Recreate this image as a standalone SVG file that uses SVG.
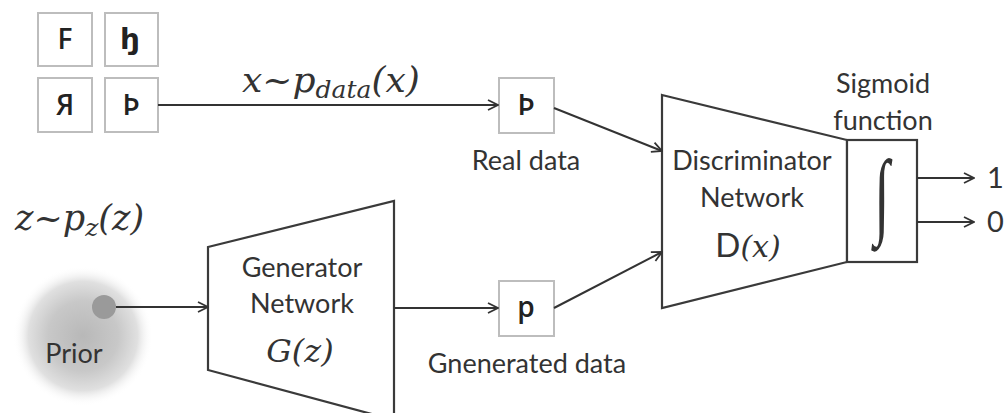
<svg xmlns="http://www.w3.org/2000/svg" width="1005" height="413" viewBox="0 0 1005 413">
<defs>
<style>
.box{fill:#fff;stroke:#bdbdbd;stroke-width:2}
.shape{fill:#fff;stroke:#3a3a3a;stroke-width:2.2}
.lbl{font-family:Lato,"Open Sans",sans-serif;font-size:27px;fill:#333;text-anchor:middle}
.glyph{font-family:"Open Sans","DejaVu Sans",sans-serif;font-weight:600;font-size:28px;fill:#222;text-anchor:middle}
.math{font-family:"DejaVu Serif","Liberation Serif",serif;font-style:italic;fill:#333}
.edge{fill:none;stroke:#333;stroke-width:2}
</style>
<marker id="arr" viewBox="0 0 12 12" refX="11" refY="6" markerWidth="12" markerHeight="12" markerUnits="userSpaceOnUse" orient="auto">
<polyline points="1,1 11,6 1,11" fill="none" stroke="#333" stroke-width="1.8"/>
</marker>
<radialGradient id="prior" cx="0.5" cy="0.5" r="0.5">
<stop offset="0" stop-color="#b8b8b8"/>
<stop offset="0.5" stop-color="#c8c8c8"/>
<stop offset="0.78" stop-color="#e0e0e0"/>
<stop offset="1" stop-color="#fff" stop-opacity="0"/>
</radialGradient>
</defs>
<rect width="1005" height="413" fill="#fff"/>

<g id="samples">
<rect class="box" x="38" y="13" width="54" height="53"/>
<text class="glyph" x="65" y="49">F</text>
<rect class="box" x="105" y="13" width="53" height="53"/>
<text class="glyph" x="130" y="49">ꜧ</text>
<rect class="box" x="38" y="78" width="54" height="54"/>
<text class="glyph" x="65" y="115">Я</text>
<rect class="box" x="105" y="78" width="53" height="54"/>
<text class="glyph" x="131" y="115">Þ</text>
</g>

<g id="label-x">
<text class="math" x="242" y="92" font-size="36">x~p<tspan font-size="25" dy="6">data</tspan><tspan dy="-6">(x)</tspan></text>
</g>

<g id="real-data">
<rect class="box" x="499" y="78" width="55" height="55"/>
<text class="glyph" x="526" y="115">Þ</text>
<text class="lbl" x="526" y="170">Real data</text>
</g>

<g id="generated-data">
<rect class="box" x="499" y="281" width="55" height="55"/>
<text class="glyph" x="526" y="317">p</text>
<text class="lbl" x="527" y="373">Gnenerated data</text>
</g>

<g id="prior">
<circle cx="83" cy="336" r="70" fill="url(#prior)"/>
<circle cx="104" cy="307" r="12" fill="#9a9a9a"/>
<text class="lbl" x="74" y="363">Prior</text>
<text class="math" x="15" y="230" font-size="35">z~p<tspan font-size="25" dy="6">z</tspan><tspan dy="-6">(z)</tspan></text>
</g>

<g id="generator">
<polygon class="shape" points="208,247 394,201 394,420 208,370"/>
<text class="lbl" x="302" y="277">Generator</text>
<text class="lbl" x="302" y="313">Network</text>
<text class="math" x="300" y="362" font-size="32" text-anchor="middle">G(z)</text>
</g>

<g id="discriminator">
<polygon class="shape" points="662,95 847,140 847,262 662,308"/>
<text class="lbl" x="752" y="170">Discriminator</text>
<text class="lbl" x="752" y="207">Network</text>
<text x="748" y="257" text-anchor="middle" fill="#333"><tspan font-family="Lato,'Open Sans',sans-serif" font-size="33">D</tspan><tspan class="math" font-size="30">(x)</tspan></text>
</g>

<g id="sigmoid">
<rect class="shape" x="847" y="140" width="70" height="122"/>
<text x="0" y="0" transform="translate(882,226) scale(1,1.7)" font-family="'Liberation Serif',serif" font-size="56" fill="#333" text-anchor="middle">∫</text>
<text class="lbl" x="883" y="93">Sigmoid</text>
<text class="lbl" x="883" y="130">function</text>
</g>

<g id="outputs">
<text x="987" y="188" font-family="Lato,'Open Sans',sans-serif" font-size="29" fill="#333">1</text>
<text x="987" y="232" font-family="Lato,'Open Sans',sans-serif" font-size="29" fill="#333">0</text>
</g>

<g id="connectors">
<line class="edge" x1="158" y1="105" x2="498" y2="105" marker-end="url(#arr)"/>
<line class="edge" x1="116" y1="307" x2="208" y2="307" marker-end="url(#arr)"/>
<line class="edge" x1="394" y1="308" x2="498" y2="308" marker-end="url(#arr)"/>
<line class="edge" x1="554" y1="108" x2="662" y2="151" marker-end="url(#arr)"/>
<line class="edge" x1="554" y1="308" x2="662" y2="252" marker-end="url(#arr)"/>
<line class="edge" x1="917" y1="178" x2="974" y2="178" marker-end="url(#arr)"/>
<line class="edge" x1="917" y1="222" x2="974" y2="222" marker-end="url(#arr)"/>
</g>
</svg>
